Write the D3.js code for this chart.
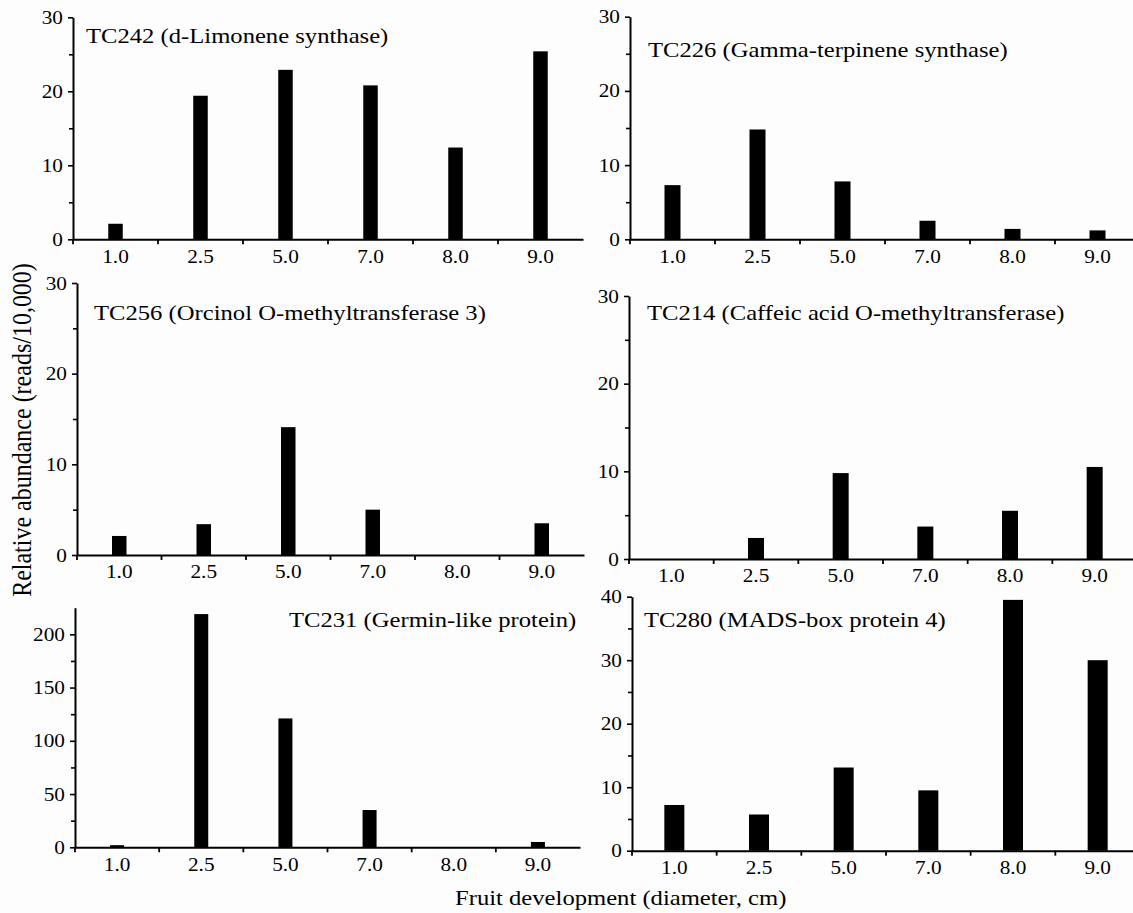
<!DOCTYPE html>
<html><head><meta charset="utf-8">
<script src="https://cdn.jsdelivr.net/npm/d3@7"></script>
<style>body{margin:0;background:#fff}svg{display:block}</style>
</head><body>
<svg id="chart" width="1133" height="913"></svg>
<script>
// ---- data ----
const categories = ["1.0", "2.5", "5.0", "7.0", "8.0", "9.0"];
const tc242 = [2.1, 19.4, 22.9, 20.8, 12.4, 25.4];
const tc226 = [7.3, 14.8, 7.8, 2.5, 1.4, 1.2];
const tc256 = [2.1, 3.4, 14.1, 5.0, 0, 3.5];
const tc214 = [0, 2.4, 9.8, 3.7, 5.5, 10.5];
const tc231 = [2, 219, 121, 35, 0, 5];
const tc280 = [7.2, 5.7, 13.1, 9.5, 39.5, 30.0];
const panelTitles = [
  "TC242 (d-Limonene synthase)",
  "TC226 (Gamma-terpinene synthase)",
  "TC256 (Orcinol O-methyltransferase 3)",
  "TC214 (Caffeic acid O-methyltransferase)",
  "TC231 (Germin-like protein)",
  "TC280 (MADS-box protein 4)"
];
const yMaxes = [30, 30, 30, 30, 225, 40];
const yMajorTicks = [
  [0, 10, 20, 30], [0, 10, 20, 30], [0, 10, 20, 30], [0, 10, 20, 30],
  [0, 50, 100, 150, 200], [0, 10, 20, 30, 40]
];
const yMinorTicks = [
  [5, 15, 25], [5, 15, 25], [5, 15, 25], [5, 15, 25],
  [25, 75, 125, 175], [5, 15, 25, 35]
];
const seriesList = [tc242, tc226, tc256, tc214, tc231, tc280];
const yAxisLabel = "Relative abundance (reads/10,000)";
const xAxisLabel = "Fruit development (diameter, cm)";

// ---- layout (positions, not data) ----
const layout = [
  {left: 73,  right: 583,  bottom: 239.3, top: 17.3,  bw: 14.5, tx: 86,  ty: 43},
  {left: 630, right: 1140, bottom: 239.3, top: 16.7,  bw: 16,   tx: 648, ty: 57},
  {left: 77,  right: 584,  bottom: 555,   top: 283,   bw: 14.5, tx: 94,  ty: 320},
  {left: 629, right: 1137, bottom: 559,   top: 296,   bw: 16,   tx: 647, ty: 320},
  {left: 75,  right: 580,  bottom: 847.3, top: 607.7, bw: 14,   tx: 289, ty: 627},
  {left: 632, right: 1140, bottom: 850.7, top: 596.7, bw: 20,   tx: 644, ty: 627}
];

const FONT = "'Liberation Serif', 'Times New Roman', serif";
const SX = 1.12; // horizontal stretch of the source image
const svg = d3.select("#chart");
svg.append("rect").attr("width", 1133).attr("height", 913).attr("fill", "#fdfdfd");

seriesList.forEach((vals, i) => {
  const L = layout[i];
  const g = svg.append("g");
  const x = d3.scaleBand().domain(categories).range([L.left, L.right]).paddingInner(0).paddingOuter(0);
  const y = d3.scaleLinear().domain([0, yMaxes[i]]).range([L.bottom, L.top]);

  // bars
  g.selectAll("rect.bar").data(categories.map((c, k) => ({c, v: vals[k]})).filter(d => d.v > 0))
    .join("rect").attr("class", "bar")
    .attr("x", d => x(d.c) + x.bandwidth() / 2 - L.bw / 2)
    .attr("width", L.bw)
    .attr("y", d => y(d.v))
    .attr("height", d => y(0) - y(d.v))
    .attr("fill", "#000");

  // y axis major
  const ya = g.append("g").attr("transform", `translate(${L.left},0)`)
    .call(d3.axisLeft(y).tickValues(yMajorTicks[i]).tickFormat(d3.format("d")).tickSize(5).tickSizeOuter(0).tickPadding(4));
  ya.select(".domain").attr("stroke-width", 2).attr("stroke", "#000");
  ya.selectAll(".tick line").attr("stroke-width", 1.6).attr("stroke", "#000");
  ya.selectAll(".tick text").attr("font-family", FONT).attr("font-size", 19).attr("fill", "#000")
    .attr("transform", `scale(${SX},1)`);
  // y axis minor
  const ym = g.append("g").attr("transform", `translate(${L.left},0)`)
    .call(d3.axisLeft(y).tickValues(yMinorTicks[i]).tickFormat("").tickSize(4).tickSizeOuter(0));
  ym.select(".domain").remove();
  ym.selectAll(".tick line").attr("stroke-width", 1.6).attr("stroke", "#000");

  // x axis: line + labels
  const xa = g.append("g").attr("transform", `translate(0,${L.bottom})`)
    .call(d3.axisBottom(x).tickSize(0).tickSizeOuter(0).tickPadding(10));
  xa.select(".domain").attr("stroke-width", 2).attr("stroke", "#000");
  xa.selectAll(".tick text").attr("font-family", FONT).attr("font-size", 19).attr("fill", "#000")
    .attr("transform", `scale(${SX},1)`);
  // x ticks at band boundaries
  g.selectAll("line.xt").data(categories).join("line").attr("class", "xt")
    .attr("x1", d => x(d)).attr("x2", d => x(d))
    .attr("y1", L.bottom).attr("y2", L.bottom + 5)
    .attr("stroke", "#000").attr("stroke-width", 1.8);

  // panel title
  g.append("text")
    .attr("transform", `translate(${L.tx},${L.ty}) scale(${SX},1)`)
    .attr("font-family", FONT).attr("font-size", 22).attr("fill", "#000")
    .text(panelTitles[i]);
});

svg.append("text")
  .attr("transform", `translate(31,430) scale(${SX},1) rotate(-90)`)
  .attr("text-anchor", "middle")
  .attr("font-family", FONT).attr("font-size", 24).attr("fill", "#000")
  .text(yAxisLabel);

svg.append("text")
  .attr("transform", `translate(455,905) scale(${SX},1)`)
  .attr("font-family", FONT).attr("font-size", 22).attr("fill", "#000")
  .text(xAxisLabel);
</script>
</body></html>
